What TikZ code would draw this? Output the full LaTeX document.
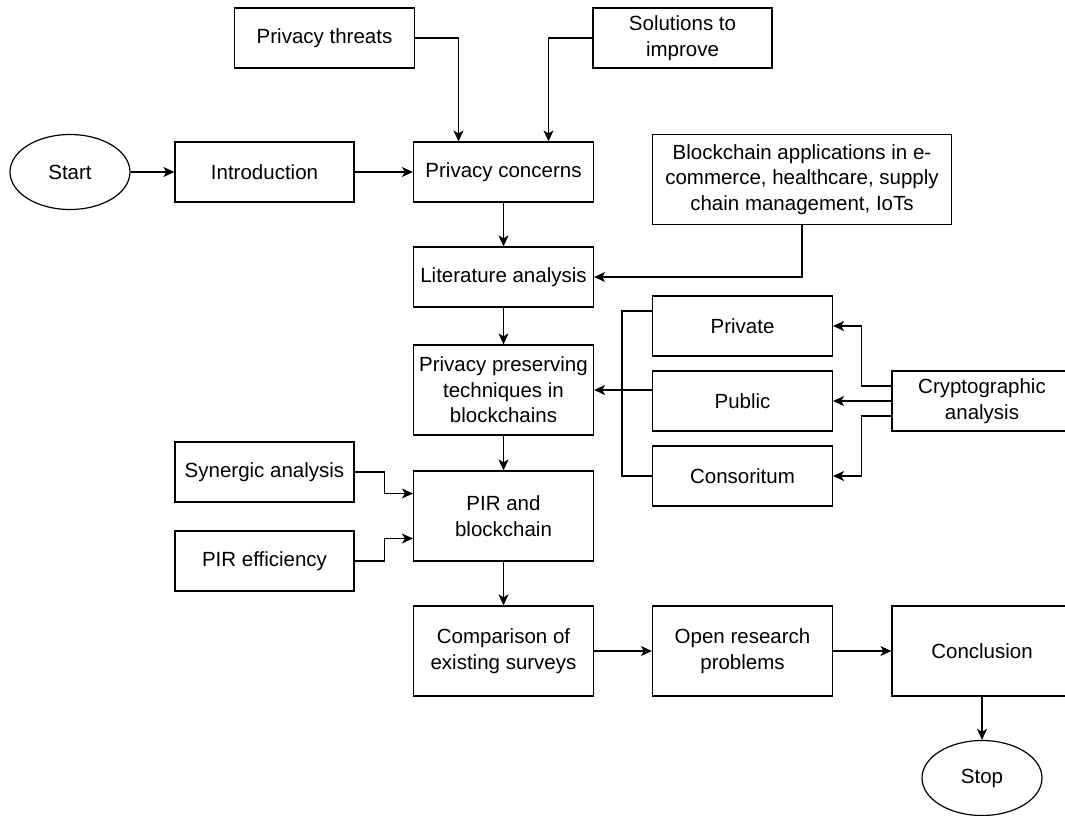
\documentclass[tikz,border=0pt]{standalone}
\usepackage{fontspec}
\setmainfont{Liberation Sans}
\usetikzlibrary{shapes.geometric,arrows.meta}
\begin{document}
\begin{tikzpicture}[x=1pt,y=-1pt,
  box/.style={draw, line width=1.2pt, align=center, inner sep=0pt,
    font=\fontsize{20.5}{25.5}\selectfont},
  rbox/.style={box, rectangle, minimum width=#1},
  oval/.style={box, ellipse, minimum width=120pt, minimum height=75pt},
  arr/.style={line width=1.2pt, -{Stealth[length=11pt,width=10pt,inset=3pt]}},
  ln/.style={line width=1.2pt}]
\useasboundingbox (0,0) rectangle (1065,815);
% nodes
\node[oval] (start) at (70,172) {Start};
\node[rbox=179pt, minimum height=60pt] (intro) at (264.5,172) {Introduction};
\node[rbox=180pt, minimum height=60pt] (concerns) at (503.5,172) {Privacy concerns};
\node[rbox=180pt, minimum height=60pt] (threats) at (324.5,38) {Privacy threats};
\node[rbox=179pt, minimum height=60pt] (solutions) at (682.5,38) {Solutions to\\improve};
\node[rbox=299pt, minimum height=90pt] (blockapp) at (802,179.5) {Blockchain applications in e-\\commerce, healthcare, supply\\chain management, IoTs};
\node[rbox=180pt, minimum height=60pt] (lit) at (503.5,277) {Literature analysis};
\node[rbox=180pt, minimum height=90pt] (ppt) at (503.5,390) {Privacy preserving\\techniques in\\blockchains};
\node[rbox=180pt, minimum height=60pt] (private) at (742.5,326) {Private};
\node[rbox=180pt, minimum height=60pt] (public) at (742.5,401) {Public};
\node[rbox=180pt, minimum height=60pt] (consor) at (742.5,476) {Consoritum};
\node[rbox=180pt, minimum height=60pt] (crypto) at (982,401) {Cryptographic\\analysis};
\node[rbox=179pt, minimum height=60pt] (synergic) at (264.5,472) {Synergic analysis};
\node[rbox=179pt, minimum height=60pt] (pireff) at (264.5,561) {PIR efficiency};
\node[rbox=180pt, minimum height=90pt] (pir) at (503.5,516) {PIR and\\blockchain};
\node[rbox=180pt, minimum height=90pt] (comp) at (503.5,651) {Comparison of\\existing surveys};
\node[rbox=180pt, minimum height=90pt] (open) at (742.5,651) {Open research\\problems};
\node[rbox=180pt, minimum height=90pt] (concl) at (982,651) {Conclusion};
\node[oval] (stop) at (982,778) {Stop};
% connectors
\draw[arr] (start.east) -- (intro.west);
\draw[arr] (intro.east) -- (concerns.west);
\draw[arr] (threats.east) -| ([xshift=-45pt]concerns.north);
\draw[arr] (solutions.west) -| ([xshift=45pt]concerns.north);
\draw[arr] (concerns.south) -- (lit.north);
\draw[arr] (blockapp.south) |- (lit.east);
\draw[arr] (lit.south) -- (ppt.north);
\draw[ln] ([yshift=15pt]private.west) -- ++(-30,0) |- (consor.west);
\draw[arr] (public.west |- ppt.east) -- (ppt.east);
\draw[arr] ([yshift=15pt]crypto.west) -- ++(-30,0) |- (private.east);
\draw[arr] (crypto.west) -- (public.east);
\draw[arr] ([yshift=-15pt]crypto.west) -- ++(-30,0) |- (consor.east);
\draw[arr] (ppt.south) -- (pir.north);
\draw[arr] (synergic.east) -- ++(30,0) |- ([yshift=22.5pt]pir.west);
\draw[arr] (pireff.east) -- ++(30,0) |- ([yshift=-22.5pt]pir.west);
\draw[arr] (pir.south) -- (comp.north);
\draw[arr] (comp.east) -- (open.west);
\draw[arr] (open.east) -- (concl.west);
\draw[arr] (concl.south) -- (stop.north);
\end{tikzpicture}
\end{document}
